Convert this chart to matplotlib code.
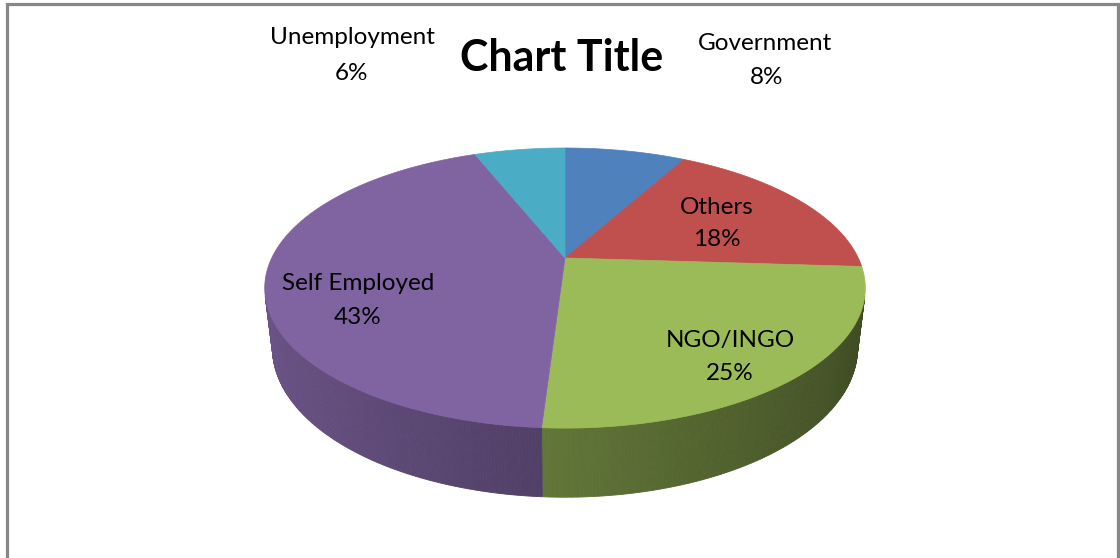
import numpy as np
import matplotlib.pyplot as plt
from matplotlib.patches import Polygon
import matplotlib.colors as mcolors

plt.rcParams['font.family'] = ['Lato', 'DejaVu Sans']

# slices, clockwise from 12 o'clock
labels = ["Government", "Others", "NGO/INGO", "Self Employed", "Unemployment"]
shares = [8, 18, 25, 43, 6]
colors = ["#4F81BD", "#C0504D", "#9BBB59", "#8064A2", "#4BACC6"]
title = "Chart Title"

# label anchors (pixel centres of the name line and the percent line)
label_pos = {
    "Government": ((765, 43), (767, 77)),
    "Others": ((717, 207), (717, 240)),
    "NGO/INGO": ((730, 340), (730, 374)),
    "Self Employed": ((358, 284), (358, 318)),
    "Unemployment": ((352, 38), (352, 73)),
}

W, H = 1120, 558

# perspective camera for the 3d pie (pixel units)
cx, cy = 565, 258
tilt = np.radians(27.1)
r_over_d = 0.241
focal = 1217
thickness = 0.0557


def project(phi, y=0.0):
    X = r_over_d * np.cos(phi)
    Z = r_over_d * np.sin(phi)
    d = 1 + Z * np.cos(tilt) - y * np.sin(tilt)
    up = y * np.cos(tilt) + Z * np.sin(tilt)
    return cx + focal * X / d, cy - focal * up / d


fig = plt.figure(figsize=(W / 100, H / 100), dpi=100)
ax = fig.add_axes([0, 0, 1, 1])
ax.set_xlim(0, W)
ax.set_ylim(H, 0)
ax.axis('off')

# chart area border (open at the bottom)
ax.plot([7, 7, 1118, 1118], [H + 5, 4, 4, H + 5], color='#878787', lw=2.3,
        solid_joinstyle='miter', zorder=5)

total = sum(shares)
edges = 90 - 360 * np.concatenate([[0], np.cumsum(shares)]) / total

# the outer wall can only be seen where it faces the camera
alpha = np.degrees(np.arcsin(r_over_d / np.cos(tilt)))
vis_lo, vis_hi = -180 + alpha, -alpha

for i, (lab, col) in enumerate(zip(labels, colors)):
    s, e = edges[i], edges[i + 1]
    rgb = np.array(mcolors.to_rgb(col))

    # side wall, shaded darker towards the right
    for shift in (0, -360, 360):
        lo = max(e, vis_lo + shift)
        hi = min(s, vis_hi + shift)
        if hi <= lo:
            continue
        phis = np.radians(np.linspace(lo, hi, int((hi - lo) * 2) + 2))
        for p1, p2 in zip(phis[:-1], phis[1:]):
            pm = 0.5 * (p1 + p2)
            shade = np.clip(rgb * (0.62 - 0.22 * np.cos(pm)), 0, 1)
            xa, ya = project(p1)
            xb, yb = project(p2)
            xc, yc = project(p2, -thickness)
            xd, yd = project(p1, -thickness)
            ax.add_patch(Polygon([(xa, ya), (xb, yb), (xc, yc), (xd, yd)],
                                 closed=True, facecolor=shade, edgecolor=shade,
                                 lw=0.6, zorder=1))

    # top face wedge
    phis = np.radians(np.linspace(s, e, 200))
    px, py = project(phis)
    pts = [(cx, cy)] + list(zip(px, py))
    ax.add_patch(Polygon(pts, closed=True, facecolor=col, edgecolor=col,
                         lw=0.5, zorder=2))

    (nx, ny), (qx, qy) = label_pos[lab]
    ax.text(nx, ny, lab, ha='center', va='center', fontsize=17.5, zorder=3)
    ax.text(qx, qy, f"{shares[i]}%", ha='center', va='center', fontsize=17.5,
            zorder=3)

ax.text(562, 58, title, ha='center', va='center', fontsize=31,
        fontweight='bold', zorder=3)

fig.savefig('out.png', dpi=100)
